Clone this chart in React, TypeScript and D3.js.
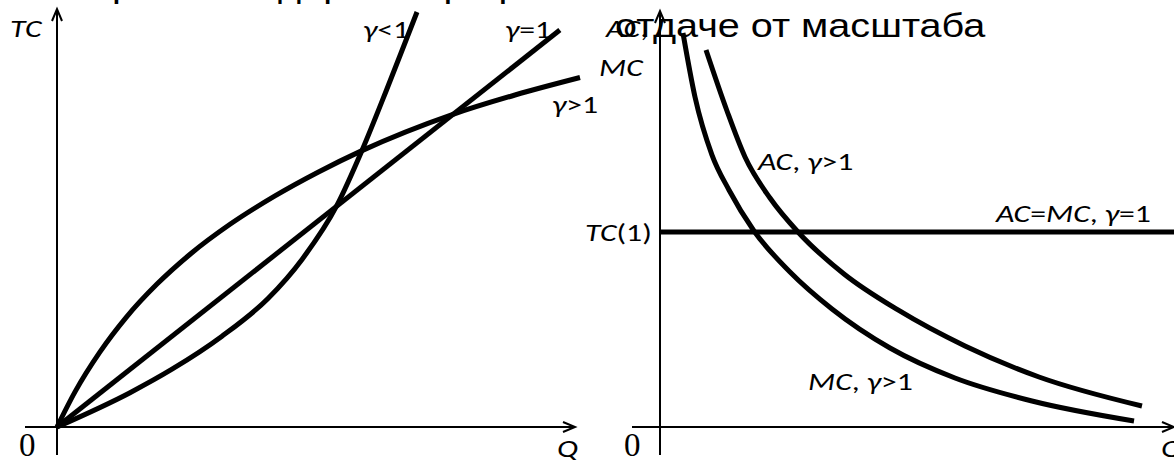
import React from "react";
import * as d3 from "d3";

// ---- Left panel data (Q, TC) in abstract units 0..100 ----
const lineGammaEq1: [number, number][] = [
  [0, 0],
  [96.7, 95.2],
];
const curveGammaGt1: [number, number][] = [
  [0, 0],
  [3.46, 8.42],
  [8.27, 18.01],
  [13.27, 26.24],
  [19.23, 34.27],
  [25.77, 41.61],
  [33.27, 48.61],
  [41.92, 55.42],
  [50.19, 61.1],
  [58.65, 66.28],
  [76.15, 74.99],
  [88.08, 79.62],
  [100.58, 83.81],
];
const curveGammaLt1: [number, number][] = [
  [0, 0],
  [14.04, 8.23],
  [22.12, 13.86],
  [31.73, 21.77],
  [40.58, 30.82],
  [47.12, 40.19],
  [53.85, 53.19],
  [58.65, 66.31],
  [63.37, 80.82],
  [67.06, 92.57],
  [69.23, 99.52],
];

// ---- Right panel data (Q, AC/MC) ----
const tcOneLevel = 46.9;
const mcCurve: [number, number][] = [
  [4.47, 94.71],
  [6.81, 79.33],
  [10.12, 65.38],
  [13.42, 56.97],
  [18.29, 47.12],
  [25.29, 37.26],
  [33.46, 28.37],
  [44.75, 18.99],
  [57.39, 11.78],
  [72.37, 6.25],
  [92.22, 1.44],
];
const acCurve: [number, number][] = [
  [8.95, 90.63],
  [13.04, 75.96],
  [16.54, 64.9],
  [21.4, 55.05],
  [26.85, 46.88],
  [35.8, 36.78],
  [46.3, 28.13],
  [59.34, 19.47],
  [73.74, 12.02],
  [93.77, 5.05],
];

const titleLines = ["Кривые издержек при разной", "отдаче от масштаба"];

const W = 1174;
const H = 462;

const LABEL_FONT = "Carlito, Lato, 'Noto Sans', sans-serif";
const SERIF = "'Liberation Serif', 'DejaVu Serif', serif";
const TITLE_FONT = "'Liberation Sans', Arial, sans-serif";

const SX = 1.27; // horizontal stretch of the original picture's text
const FS = 25;

function T({
  x,
  y,
  children,
  italic,
  size = FS,
  family = LABEL_FONT,
  sx = SX,
}: {
  x: number;
  y: number;
  children: React.ReactNode;
  italic?: boolean;
  size?: number;
  family?: string;
  sx?: number;
}) {
  return (
    <text
      transform={`translate(${x},${y}) scale(${sx},1)`}
      fontFamily={family}
      fontSize={size}
      fontStyle={italic ? "italic" : "normal"}
      fill="#000"
    >
      {children}
    </text>
  );
}

export default function App() {
  const xL = d3.scaleLinear().domain([0, 100]).range([57, 577]);
  const yL = d3.scaleLinear().domain([0, 100]).range([427, 10]);
  const xR = d3.scaleLinear().domain([0, 100]).range([660, 1174]);
  const yR = d3.scaleLinear().domain([0, 100]).range([427, 11]);

  const lineL = d3
    .line<[number, number]>()
    .x((d) => xL(d[0]))
    .y((d) => yL(d[1]))
    .curve(d3.curveMonotoneX);
  const lineR = d3
    .line<[number, number]>()
    .x((d) => xR(d[0]))
    .y((d) => yR(d[1]))
    .curve(d3.curveMonotoneX);

  const curveStyle = { fill: "none", stroke: "#000", strokeWidth: 5 } as const;
  const axisStyle = { fill: "none", stroke: "#000", strokeWidth: 2 } as const;

  const lx0 = xL(0);
  const ly0 = yL(0);
  const rx0 = xR(0);
  const ry0 = yR(0);

  return (
    <svg
      width={W}
      height={H}
      style={{ position: "absolute", left: 0, top: 0, background: "#fff" }}
    >
      <rect x={0} y={0} width={W} height={H} fill="#fff" />
      {/* title (first line mostly above the visible area) */}
      <T x={89} y={-3} family={TITLE_FONT} size={33} sx={1.2}>
        {titleLines[0]}
      </T>
      <T x={615} y={37} family={TITLE_FONT} size={33} sx={1.2}>
        {titleLines[1]}
      </T>

      {/* ---------- LEFT PANEL ---------- */}
      <line x1={lx0} y1={455} x2={lx0} y2={9} {...axisStyle} />
      <path d={`M${lx0 - 5},${21} L${lx0},${9} L${lx0 + 5},${21}`} {...axisStyle} />
      <line x1={25} y1={ly0} x2={575} y2={ly0} {...axisStyle} />
      <path d={`M${563},${ly0 - 5} L${575},${ly0} L${563},${ly0 + 5}`} {...axisStyle} />

      <path d={lineL(lineGammaEq1) || ""} {...curveStyle} />
      <path d={lineL(curveGammaGt1) || ""} {...curveStyle} />
      <path d={lineL(curveGammaLt1) || ""} {...curveStyle} />

      <T x={10} y={37} italic>
        TC
      </T>
      <T x={363} y={38}>
        <tspan fontStyle="italic">γ</tspan>&lt;1
      </T>
      <T x={505} y={38}>
        <tspan fontStyle="italic">γ</tspan>=1
      </T>
      <T x={552} y={113}>
        <tspan fontStyle="italic">γ</tspan>&gt;1
      </T>
      <T x={19} y={456} family={SERIF} size={33} sx={1}>
        0
      </T>
      <T x={557} y={457} italic>
        Q
      </T>

      {/* ---------- RIGHT PANEL ---------- */}
      <line x1={rx0} y1={455} x2={rx0} y2={11} {...axisStyle} />
      <path d={`M${rx0 - 5},${23} L${rx0},${11} L${rx0 + 5},${23}`} {...axisStyle} />
      <line x1={632} y1={ry0} x2={1174} y2={ry0} {...axisStyle} />
      <path d={`M${1162},${ry0 - 5} L${1174},${ry0} L${1162},${ry0 + 5}`} {...axisStyle} />

      <line
        x1={rx0}
        y1={yR(tcOneLevel)}
        x2={xR(100)}
        y2={yR(tcOneLevel)}
        {...curveStyle}
      />
      <path d={lineR(mcCurve) || ""} {...curveStyle} />
      <path d={lineR(acCurve) || ""} {...curveStyle} />

      <T x={606} y={37}>
        <tspan fontStyle="italic">AC</tspan>,
      </T>
      <T x={599} y={76} italic>
        MC
      </T>
      <T x={585} y={241}>
        <tspan fontStyle="italic">TC</tspan>(1)
      </T>
      <T x={996} y={222}>
        <tspan fontStyle="italic">AC</tspan>=<tspan fontStyle="italic">MC</tspan>,{" "}
        <tspan fontStyle="italic">γ</tspan>=1
      </T>
      <T x={758} y={170}>
        <tspan fontStyle="italic">AC</tspan>, <tspan fontStyle="italic">γ</tspan>&gt;1
      </T>
      <T x={808} y={390}>
        <tspan fontStyle="italic">MC</tspan>, <tspan fontStyle="italic">γ</tspan>&gt;1
      </T>
      <T x={624} y={456} family={SERIF} size={33} sx={1}>
        0
      </T>
      <T x={1161} y={457} italic>
        Q
      </T>
    </svg>
  );
}
